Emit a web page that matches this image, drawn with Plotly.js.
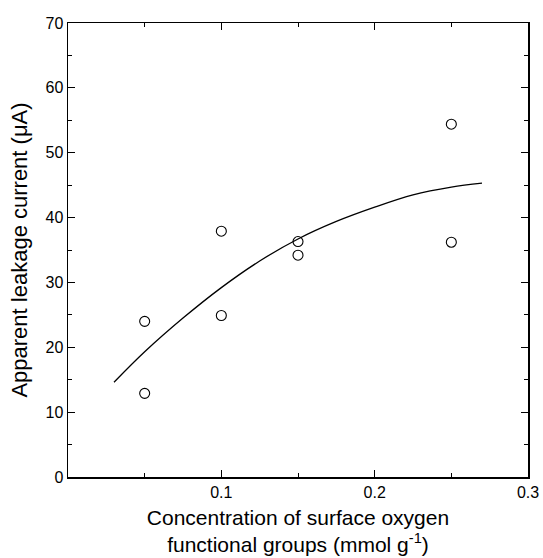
<!DOCTYPE html>
<html>
<head>
<meta charset="utf-8">
<script src="https://cdn.plot.ly/plotly-3.0.1.min.js"></script>
<style>html,body{margin:0;padding:0;background:#fff;}#chart{width:543px;height:558px;}</style>
</head>
<body>
<div id="chart"></div>
<script>
// Measured data points
const pointX = [0.05, 0.05, 0.10, 0.10, 0.15, 0.15, 0.25, 0.25];
const pointY = [24.0, 12.9, 37.9, 24.9, 36.3, 34.2, 54.4, 36.2];
// Fitted curve
const fitX = [0.03, 0.05, 0.075, 0.10, 0.125, 0.15, 0.175, 0.20, 0.225, 0.25, 0.27];
const fitY = [14.6, 19.3, 24.5, 29.2, 33.3, 36.7, 39.4, 41.6, 43.5, 44.7, 45.3];
// Tick labels
const xTickVals = [0, 0.1, 0.2, 0.3];
const xTickText = ["", "0.1", "0.2", "0.3"];
const yTickVals = [0, 10, 20, 30, 40, 50, 60, 70];

const traces = [
  {x: fitX, y: fitY, mode: 'lines', line: {color: '#000', width: 1.3, shape: 'spline'}, hoverinfo: 'skip'},
  {x: pointX, y: pointY, mode: 'markers',
   marker: {symbol: 'circle-open', size: 10, color: '#000', line: {width: 1.1, color: '#000'}}}
];

const axisCommon = {
  showgrid: false, zeroline: false, showline: true, linecolor: '#000', linewidth: 1.5,
  mirror: 'allticks', ticks: 'inside', ticklen: 7, tickwidth: 1.2, tickcolor: '#000',
  tickfont: {family: 'Liberation Sans, Arial, sans-serif', size: 16, color: '#000'}
};

const layout = {
  width: 543, height: 558,
  margin: {l: 68, r: 15, t: 23, b: 81},
  paper_bgcolor: '#fff', plot_bgcolor: '#fff',
  showlegend: false,
  font: {family: 'Liberation Sans, Arial, sans-serif', color: '#000'},
  xaxis: Object.assign({}, axisCommon, {
    range: [0, 0.3], tickmode: 'array', tickvals: xTickVals, ticktext: xTickText,
    minor: {tickmode: 'array', tickvals: [0.05, 0.15, 0.25], ticks: 'inside', ticklen: 4, tickcolor: '#000', tickwidth: 1},
    title: {text: 'Concentration of surface oxygen<br>functional groups (mmol g<sup>-1</sup>)', font: {size: 21, color: '#000'}, standoff: 10}
  }),
  yaxis: Object.assign({}, axisCommon, {
    range: [0, 70], tickmode: 'array', tickvals: yTickVals,
    minor: {tickmode: 'linear', tick0: 5, dtick: 10, ticks: 'inside', ticklen: 4, tickcolor: '#000', tickwidth: 1},
    title: {text: 'Apparent leakage current (μA)', font: {size: 22, color: '#000'}, standoff: 12}
  })
};

Plotly.newPlot('chart', traces, layout, {displayModeBar: false, staticPlot: true});
</script>
</body>
</html>
